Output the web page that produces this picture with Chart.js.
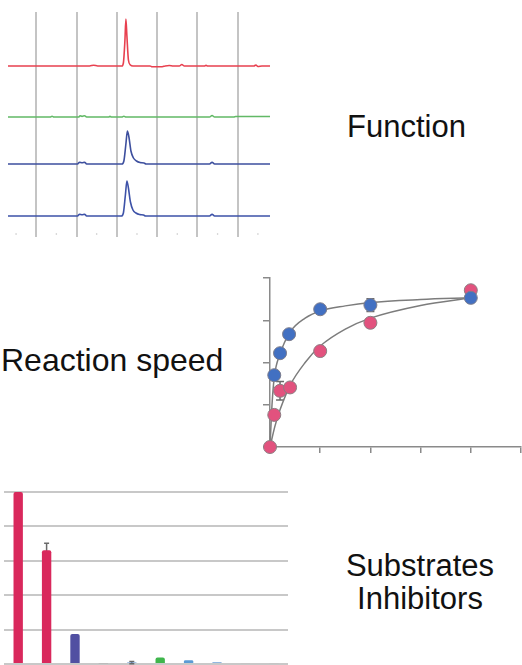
<!DOCTYPE html>
<html>
<head>
<meta charset="utf-8">
<script src="https://cdn.jsdelivr.net/npm/chart.js@4.4.1/dist/chart.umd.min.js"></script>
<style>
  html, body { margin: 0; padding: 0; background: #fff; }
  #page { position: relative; width: 522px; height: 665px; overflow: hidden; background: #fff; }
  canvas { position: absolute; }
  .label { position: absolute; font-family: "Liberation Sans", Arial, sans-serif; font-size: 31px; color: #111; line-height: 31px; white-space: nowrap; }
</style>
</head>
<body>
<div id="page">
  <canvas id="traceChart" width="280" height="245" style="left:0;top:0"></canvas>
  <canvas id="speedChart" width="272" height="200" style="left:250px;top:265px"></canvas>
  <canvas id="barChart" width="300" height="185" style="left:0;top:480px"></canvas>
  <div class="label" style="left:347px;top:111px">Function</div>
  <div class="label" style="left:1px;top:344px;font-size:32px;line-height:32px">Reaction speed</div>
  <div class="label" style="left:320px;top:550px;width:200px;text-align:center;line-height:32.6px">Substrates<br>Inhibitors</div>
</div>
<script>
// --- chromatogram traces (minutes, signal) ---
const gridMinutes = [0, 4, 8, 12, 16, 20];
const minorMinutes = [-2, 2, 6, 10, 14, 18, 22];
const traceOffsets = [171, 120, 73, 21];
const traceColors = ['#e8404f', '#62b966', '#3d4f9e', '#3d52a8'];
const redTrace = [[-2.8,0],[5.3,0],[5.7,0.8],[6.1,0],[8.5,0],[8.65,3],[8.8,25],[8.9,47],[9.0,30],[9.15,6],[9.35,1],[9.6,0],[11.3,0],[11.5,-0.8],[12.5,-0.8],[12.8,0],[13.2,0.5],[13.6,0],[14.2,0],[14.45,1.5],[14.7,0],[16.7,0],[16.85,0.8],[17.0,0],[21.6,0],[21.8,1],[22.0,-0.5],[22.4,0],[23.2,0]];
const greenTrace = [[-2.8,0],[1.4,0],[1.57,0.8],[1.75,0],[4.2,0],[4.35,1.2],[4.55,0.6],[4.8,1.2],[5.0,0],[7.2,0],[7.32,0.8],[7.45,0],[8.5,0],[8.7,0.8],[8.9,0],[17.2,0],[17.45,1.5],[17.7,0],[19.6,0],[19.8,0.5],[23.2,0.5]];
const blueTrace1 = [[-2.8,0],[4.1,0],[4.3,1.8],[4.55,1.2],[4.8,1.8],[5.0,0],[8.5,0],[8.7,3],[8.9,20],[9.05,33],[9.2,27],[9.4,13],[9.65,6],[9.95,3],[10.3,1.5],[10.7,1],[10.9,0],[17.2,0],[17.45,1.8],[17.7,0],[23.2,0]];
const blueTrace2 = [[-2.8,0],[4.1,0],[4.3,1.8],[4.55,1.2],[4.8,1.8],[5.0,0],[8.45,0],[8.65,3],[8.85,21],[9.0,35],[9.15,28],[9.35,14],[9.6,6],[9.9,3],[10.25,1.5],[10.65,1],[10.85,0],[17.2,0],[17.45,1.8],[17.7,0],[23.2,0]];
const traces = [redTrace, greenTrace, blueTrace1, blueTrace2];

// --- reaction speed (concentration, rate) ---
const concBlue = [0.085, 0.2, 0.38, 1, 2, 4];
const rateBlue = [1.70, 2.22, 2.67, 3.26, 3.36, 3.53];
const errBlue = [0, 0, 0, 0, 0.15, 0];
const concPink = [0, 0.085, 0.2, 0.4, 1, 2, 4];
const ratePink = [0, 0.76, 1.33, 1.41, 2.27, 2.94, 3.71];
const errPink = [0, 0, 0.22, 0, 0, 0, 0];
const fitX = [0, 0.04, 0.085, 0.2, 0.4, 0.7, 1, 1.5, 2, 3, 4];
const fitBlue = [0, 1.0, 1.65, 2.2, 2.72, 3.05, 3.22, 3.34, 3.42, 3.49, 3.53];
const fitPinkX = [0, 0.1, 0.2, 0.4, 0.7, 1, 1.5, 2, 3, 4];
const fitPink = [0, 0.5, 0.88, 1.46, 2.0, 2.39, 2.79, 3.05, 3.35, 3.53];

// --- substrates / inhibitors ---
const compounds = ['C1', 'C2', 'C3', 'C4', 'C5', 'C6', 'C7', 'C8', 'C9', 'C10'];
const activity = [5, 3.31, 0.87, 0.015, 0.04, 0.19, 0.11, 0.05, 0.02, 0.02];
const activityErr = [0, 0.2, 0, 0, 0.03, 0, 0, 0, 0, 0];
const barColors = ['#d9285c', '#d9285c', '#5150a2', '#b0b0b0', '#5b8fd0', '#3fb64c', '#5b9bd5', '#6fa0d8', '#bdbdbd', '#bdbdbd'];

const xy = (xs, ys) => xs.map((x, i) => ({ x: x, y: ys[i] }));

// error bars drawn under the marks
const errorBars = {
  id: 'errorBars',
  beforeDatasetsDraw(chart) {
    const ctx = chart.ctx;
    chart.data.datasets.forEach((ds, i) => {
      if (!ds.errors) return;
      const meta = chart.getDatasetMeta(i);
      const yScale = chart.scales[meta.yAxisID];
      ctx.save();
      ctx.strokeStyle = '#6a6a6a';
      ctx.lineWidth = 1.5;
      ds.errors.forEach((e, j) => {
        if (!e) return;
        const v = meta.controller.getParsed(j).y;
        const x = meta.data[j].x;
        const top = yScale.getPixelForValue(v + e);
        const bottom = yScale.getPixelForValue(v - e);
        const cap = ds.capHalf || 3;
        ctx.beginPath();
        ctx.moveTo(x, top); ctx.lineTo(x, bottom);
        ctx.moveTo(x - cap, top); ctx.lineTo(x + cap, top);
        ctx.moveTo(x - cap, bottom); ctx.lineTo(x + cap, bottom);
        ctx.stroke();
      });
      ctx.restore();
    });
  }
};

Chart.defaults.animation = false;
Chart.defaults.events = [];
Chart.defaults.plugins.legend.display = false;
Chart.defaults.plugins.tooltip.enabled = false;

// Chromatograms
new Chart(document.getElementById('traceChart'), {
  type: 'line',
  data: {
    datasets: [
      {
        data: minorMinutes.map(m => ({ x: m, y: 3 })),
        showLine: false, pointRadius: 0.8, pointBorderWidth: 0,
        pointBackgroundColor: '#c4c4c4'
      }
    ].concat(traces.map((t, i) => ({
      data: t.map(p => ({ x: p[0], y: p[1] + traceOffsets[i] })),
      borderColor: traceColors[i],
      borderWidth: 1.6,
      pointRadius: 0,
      cubicInterpolationMode: 'monotone',
      clip: false
    })))
  },
  options: {
    responsive: false,
    layout: { autoPadding: false, padding: { left: 8, right: 10, top: 12, bottom: 8 } },
    scales: {
      x: {
        type: 'linear', min: -2.8, max: 23.2,
        afterBuildTicks: scale => { scale.ticks = gridMinutes.map(v => ({ value: v })); },
        grid: { color: '#c4c4c4', lineWidth: 2, drawTicks: false },
        ticks: { display: false },
        border: { display: false }
      },
      y: { display: false, min: 0, max: 225 }
    }
  }
});

// Reaction speed
const axisGray = '#8a8a8a';
new Chart(document.getElementById('speedChart'), {
  type: 'scatter',
  data: {
    datasets: [
      {
        data: xy(concBlue, rateBlue), errors: errBlue, capHalf: 4,
        pointRadius: 6.5, pointBackgroundColor: '#4270c2',
        pointBorderColor: '#7d7d8c', pointBorderWidth: 1, clip: false
      },
      {
        data: xy(concPink, ratePink), errors: errPink, capHalf: 4,
        pointRadius: 6.5, pointBackgroundColor: '#e2527e',
        pointBorderColor: '#8c7d82', pointBorderWidth: 1, clip: false
      },
      {
        type: 'line', data: xy(fitX, fitBlue), borderColor: '#7c7c7c', borderWidth: 1.5,
        pointRadius: 0, cubicInterpolationMode: 'monotone', clip: false
      },
      {
        type: 'line', data: xy(fitPinkX, fitPink), borderColor: '#7c7c7c', borderWidth: 1.5,
        pointRadius: 0, cubicInterpolationMode: 'monotone', clip: false
      }
    ]
  },
  options: {
    responsive: false,
    layout: { autoPadding: false, padding: { left: 13, right: 1, top: 13, bottom: 12 } },
    scales: {
      x: {
        type: 'linear', min: 0, max: 5,
        ticks: { display: false, stepSize: 1 },
        grid: { drawOnChartArea: false, tickLength: 6, color: axisGray, lineWidth: 1.5 },
        border: { color: axisGray, width: 1.5 }
      },
      y: {
        min: 0, max: 4,
        ticks: { display: false, stepSize: 1 },
        grid: { drawOnChartArea: false, tickLength: 7, color: axisGray, lineWidth: 1.5 },
        border: { color: axisGray, width: 1.5 }
      }
    }
  },
  plugins: [errorBars]
});

// Substrates / inhibitors
new Chart(document.getElementById('barChart'), {
  type: 'bar',
  data: {
    labels: compounds,
    datasets: [{
      data: activity, errors: activityErr, capHalf: 2.5,
      backgroundColor: barColors,
      barPercentage: 0.33, categoryPercentage: 1,
      borderRadius: 2, borderSkipped: 'start'
    }]
  },
  options: {
    responsive: false,
    layout: { autoPadding: false, padding: { left: 4, right: 12, top: 12, bottom: 1 } },
    scales: {
      x: { display: false },
      y: {
        min: 0, max: 5,
        ticks: { display: false, stepSize: 1 },
        grid: { color: '#c8c8c8', lineWidth: 2, drawTicks: false },
        border: { display: false }
      }
    }
  },
  plugins: [errorBars]
});
</script>
</body>
</html>
